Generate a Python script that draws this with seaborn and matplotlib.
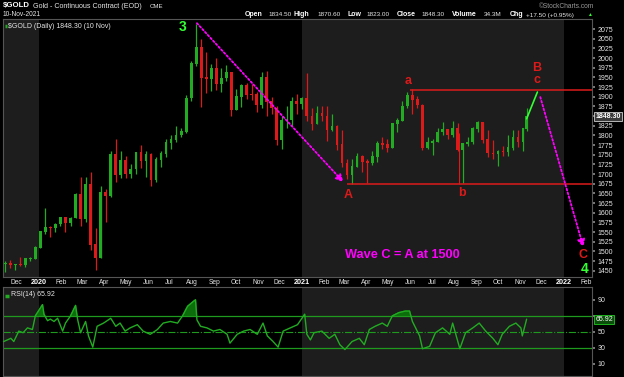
import numpy as np
import pandas as pd
import matplotlib
matplotlib.use("Agg")
import matplotlib.pyplot as plt
import matplotlib.dates as mdates
import seaborn as sns

# ---------------- data ----------------
# weekly bars (week ending Friday, last one is Wed 10 Nov 2021)
week_end = list(pd.date_range("2019-11-15", "2021-11-05", freq="W-FRI").strftime("%Y-%m-%d")) + ["2021-11-10"]

open_px = [1468, 1468, 1465, 1466, 1465, 1481, 1481,
           1510, 1552, 1562, 1560, 1571, 1589, 1574, 1586, 1648, 1585, 1674, 1517, 1484,
           1654, 1645, 1752, 1698, 1735, 1700, 1713, 1756, 1735, 1751, 1685, 1738, 1753,
           1781, 1790, 1801, 1810, 1897, 1986, 2028, 1950, 1947, 1974, 1934, 1948, 1962,
           1866, 1900, 1930, 1906, 1905, 1879, 1951, 1888, 1871, 1788, 1840, 1840, 1888,
           1883, 1895, 1850, 1830, 1856, 1850, 1814, 1824, 1777, 1729, 1698, 1720, 1745,
           1733, 1729, 1745, 1780, 1777, 1768, 1831, 1838, 1876, 1903, 1892, 1878, 1769,
           1781, 1784, 1809, 1815, 1802, 1817, 1763, 1779, 1783, 1818, 1833, 1790, 1754,
           1752, 1760, 1757, 1768, 1796, 1784, 1818]
high_px = [1475, 1478, 1468, 1486, 1482, 1485, 1515,
           1553, 1613, 1566, 1574, 1590, 1590, 1590, 1650, 1692, 1692, 1704, 1560, 1670,
           1660, 1760, 1790, 1760, 1747, 1727, 1757, 1775, 1760, 1755, 1745, 1760, 1790,
           1800, 1823, 1820, 1905, 1992, 2089, 2050, 2016, 1985, 2000, 1975, 1981, 1965,
           1921, 1933, 1936, 1933, 1912, 1965, 1966, 1900, 1875, 1850, 1875, 1900, 1907,
           1900, 1962, 1870, 1876, 1875, 1875, 1855, 1826, 1815, 1740, 1740, 1755, 1750,
           1740, 1760, 1785, 1797, 1790, 1833, 1845, 1890, 1912, 1919, 1903, 1880, 1795,
           1790, 1818, 1834, 1816, 1836, 1832, 1780, 1796, 1822, 1837, 1834, 1813, 1787,
           1763, 1772, 1801, 1815, 1813, 1820, 1871]
low_px = [1447, 1457, 1452, 1463, 1459, 1474, 1480,
          1508, 1545, 1537, 1551, 1565, 1551, 1565, 1585, 1565, 1575, 1504, 1451, 1482,
          1577, 1640, 1680, 1690, 1690, 1689, 1700, 1716, 1692, 1670, 1680, 1717, 1744,
          1766, 1783, 1796, 1807, 1890, 1980, 1874, 1910, 1914, 1916, 1912, 1940, 1851,
          1865, 1874, 1893, 1891, 1860, 1871, 1850, 1856, 1775, 1765, 1820, 1825, 1855,
          1868, 1836, 1815, 1830, 1836, 1785, 1810, 1763, 1717, 1687, 1673, 1718, 1705,
          1677, 1724, 1730, 1764, 1756, 1767, 1808, 1836, 1870, 1855, 1870, 1761, 1765,
          1750, 1782, 1800, 1790, 1795, 1760, 1677, 1772, 1778, 1808, 1781, 1745, 1738,
          1722, 1746, 1746, 1761, 1770, 1759, 1812]
close_px = [1468, 1465, 1466, 1465, 1481, 1481, 1510,
            1552, 1562, 1560, 1571, 1589, 1574, 1586, 1648, 1585, 1674, 1517, 1484, 1654,
            1645, 1752, 1698, 1735, 1700, 1713, 1756, 1735, 1751, 1685, 1738, 1753, 1781,
            1790, 1801, 1810, 1897, 1986, 2028, 1950, 1947, 1974, 1934, 1948, 1962, 1866,
            1900, 1930, 1906, 1905, 1879, 1951, 1888, 1871, 1788, 1840, 1840, 1888, 1883,
            1895, 1850, 1830, 1856, 1850, 1814, 1824, 1777, 1729, 1698, 1720, 1745, 1733,
            1729, 1745, 1780, 1777, 1768, 1831, 1838, 1876, 1903, 1892, 1878, 1769, 1781,
            1784, 1809, 1815, 1802, 1817, 1763, 1779, 1783, 1818, 1833, 1790, 1754, 1752,
            1760, 1757, 1768, 1796, 1784, 1818, 1848.3]

# RSI(14)
rsi_dates = ["2019-11-13", "2019-11-23", "2019-11-27", "2019-12-04", "2019-12-10", "2019-12-16",
             "2019-12-23", "2019-12-27", "2020-01-06", "2020-01-08", "2020-01-13", "2020-01-17",
             "2020-01-22", "2020-01-27", "2020-02-03", "2020-02-07", "2020-02-14", "2020-02-21",
             "2020-02-24", "2020-02-28", "2020-03-06", "2020-03-10", "2020-03-16", "2020-03-22",
             "2020-03-31", "2020-04-10", "2020-04-17", "2020-04-23", "2020-04-30", "2020-05-07",
             "2020-05-17", "2020-05-25", "2020-06-04", "2020-06-14", "2020-06-22", "2020-07-02",
             "2020-07-12", "2020-07-19", "2020-07-26", "2020-08-03", "2020-08-06", "2020-08-08",
             "2020-08-13", "2020-08-22", "2020-08-31", "2020-09-09", "2020-09-19", "2020-09-23",
             "2020-10-03", "2020-10-12", "2020-10-21", "2020-10-31", "2020-11-08", "2020-11-14",
             "2020-11-22", "2020-11-29", "2020-12-06", "2020-12-16", "2020-12-26", "2021-01-05",
             "2021-01-08", "2021-01-13", "2021-01-18", "2021-01-29", "2021-02-08", "2021-02-16",
             "2021-02-23", "2021-03-02", "2021-03-12", "2021-03-22", "2021-03-29", "2021-04-05",
             "2021-04-13", "2021-04-23", "2021-04-30", "2021-05-07", "2021-05-16", "2021-05-25",
             "2021-05-31", "2021-06-04", "2021-06-14", "2021-06-18", "2021-06-28", "2021-07-06",
             "2021-07-16", "2021-07-26", "2021-07-30", "2021-08-09", "2021-08-17", "2021-08-27",
             "2021-09-05", "2021-09-14", "2021-09-24", "2021-10-01", "2021-10-07", "2021-10-17",
             "2021-10-26", "2021-11-02", "2021-11-04", "2021-11-10"]
rsi_vals = [38, 42, 38, 51, 49, 55, 53, 70, 84, 72, 64, 66, 63, 67, 51, 61, 70, 83,
            65, 49, 63, 45, 31, 57, 61, 67, 57, 61, 51, 55, 59, 51, 47, 53, 61, 63,
            61, 70, 82, 88, 90, 65, 57, 55, 51, 53, 47, 36, 47, 51, 53, 47, 61, 45,
            38, 31, 51, 55, 59, 72, 47, 40, 49, 51, 42, 47, 34, 28, 38, 42, 34, 53,
            57, 61, 57, 70, 74, 76, 76, 63, 45, 29, 32, 49, 55, 47, 61, 29, 49, 55,
            61, 51, 42, 34, 47, 57, 61, 55, 45, 65.92]

price_ticks = list(range(1450, 2076, 25))
rsi_ticks = [10, 30, 50, 70, 90]

# Elliott wave markup
support = 1673
resistance = 1917
wave_text = ["3", "A", "a", "b", "B", "c", "C", "4"]
wave_date = ["2020-07-19", "2021-03-06", "2021-05-29", "2021-08-12", "2021-11-24",
             "2021-11-24", "2022-01-28", "2022-01-30"]
wave_price = [2080, 1646, 1940, 1651, 1974, 1943, 1491, 1454]

# ---------------- style ----------------
sns.set_theme(style="dark", rc={"axes.facecolor": "black", "figure.facecolor": "black",
                                "axes.edgecolor": "#555555", "axes.grid": False})
plt.rcParams["font.family"] = ["Liberation Sans", "DejaVu Sans"]

GREEN = "#22ac22"
RED = "#dc1a1a"
MAG = "#ff00ff"
LIME = "#33ff33"
BAND = "#1d1d1d"
TXT = "#e6e6e6"

W, H = 624, 377
fig = plt.figure(figsize=(W / 100, H / 100), dpi=100, facecolor="black")


def px_axes(x0, y0, x1, y1):
    return fig.add_axes([x0 / W, 1 - y1 / H, (x1 - x0) / W, (y1 - y0) / H])


def ftext(x, y, s, **kw):
    kw.setdefault("color", TXT)
    kw.setdefault("va", "center")
    fig.text(x / W, 1 - y / H, s, **kw)


ax = px_axes(3, 19, 592, 277)
ax_rsi = px_axes(3, 287, 592, 376)

d = mdates.date2num(pd.to_datetime(week_end))
o = np.array(open_px, float)
hi = np.array(high_px, float)
lo = np.array(low_px, float)
c = np.array(close_px, float)

x0 = mdates.date2num(pd.Timestamp("2019-11-12"))
x1 = mdates.date2num(pd.Timestamp("2022-02-09"))
y2020 = mdates.date2num(pd.Timestamp("2020-01-01"))
y2021 = mdates.date2num(pd.Timestamp("2021-01-01"))
y2022 = mdates.date2num(pd.Timestamp("2022-01-01"))

for a in (ax, ax_rsi):
    a.set_facecolor("black")
    a.axvspan(x0, y2020, color=BAND, zorder=0, lw=0)
    a.axvspan(y2021, y2022, color=BAND, zorder=0, lw=0)
    a.set_xlim(x0, x1)
    for s in a.spines.values():
        s.set_color("#555555")
        s.set_linewidth(0.8)

# candles
cols = np.where(c >= o, GREEN, RED)
ax.vlines(d, lo, hi, colors=cols, lw=0.9, zorder=2)
ax.bar(d, np.abs(c - o) + 1.5, bottom=np.minimum(o, c) - 0.75, width=3.8, color=cols,
       edgecolor="none", linewidth=0, zorder=3)
ax.set_ylim(1433.7, 2100.9)

# axes ticks
ax.yaxis.tick_right()
ax.set_yticks(price_ticks)
ax.set_yticklabels(["" if t == 1850 else str(t) for t in price_ticks])
ax.tick_params(axis="y", colors="#888888", labelcolor=TXT, labelsize=5, length=2, pad=2)

months = pd.date_range("2019-12-01", "2022-02-01", freq="MS")
ax.set_xticks(mdates.date2num(months))
ax.set_xticklabels([m.strftime("%Y") if m.month == 1 else m.strftime("%b") for m in months])
ax.tick_params(axis="x", colors="#888888", labelcolor=TXT, labelsize=4.8, length=2,
               direction="in", pad=1.5)
for lab, m in zip(ax.get_xticklabels(), months):
    if m.month == 1:
        lab.set_fontweight("bold")
        lab.set_fontsize(5.2)
        lab.set_color("white")

# Elliott wave lines
dA = mdates.date2num(pd.Timestamp("2021-03-05"))
da = mdates.date2num(pd.Timestamp("2021-05-31"))
db = mdates.date2num(pd.Timestamp("2021-08-08"))
ax.hlines(support, dA, x1, color=RED, lw=1.1, zorder=4)
ax.hlines(resistance, da, x1, color=RED, lw=1.1, zorder=4)
ax.vlines(db, support, 1805, color=RED, lw=0.8, zorder=4)

ax.annotate("", xy=(mdates.date2num(pd.Timestamp("2021-02-28")), 1679),
            xytext=(mdates.date2num(pd.Timestamp("2020-08-08")), 2090),
            arrowprops=dict(arrowstyle="-|>", ls=(0, (1, 1.2)), color=MAG, lw=1.3,
                            mutation_scale=11, shrinkA=0, shrinkB=0), zorder=5)
ax.annotate("", xy=(mdates.date2num(pd.Timestamp("2022-01-28")), 1511),
            xytext=(mdates.date2num(pd.Timestamp("2021-11-29")), 1899),
            arrowprops=dict(arrowstyle="-|>", ls=(0, (1, 1.2)), color=MAG, lw=1.3,
                            mutation_scale=11, shrinkA=0, shrinkB=0), zorder=5)
ax.plot(mdates.date2num(pd.to_datetime(["2021-11-10", "2021-11-25"])), [1843, 1912],
        color=LIME, lw=1.2, zorder=5)

for t, dt, p in zip(wave_text, wave_date, wave_price):
    col = LIME if t in ("3", "4") else RED
    size = 10 if t in ("3", "4") else 9
    ax.text(mdates.date2num(pd.Timestamp(dt)), p, t, color=col, fontsize=size,
            fontweight="bold", ha="center", va="center", zorder=6)

ax.text(mdates.date2num(pd.Timestamp("2021-05-21")), 1491, "Wave C = A at 1500",
        color=MAG, fontsize=9.2, fontweight="bold", ha="center", va="center", zorder=6)

# last price tag
ax.text(1.006, close_px[-1], f"{close_px[-1]:.2f}", transform=ax.get_yaxis_transform(),
        fontsize=5, color="white", fontweight="bold", va="center", ha="left",
        bbox=dict(boxstyle="square,pad=0.15", fc="#3a3a3a", ec="#cfcfcf", lw=0.6), clip_on=False)

# in-panel legend
ax.text(0.009, 0.985, "$GOLD (Daily) 1848.30 (10 Nov)", transform=ax.transAxes,
        fontsize=5, color=TXT, va="top", ha="left")
ax.plot([0.003, 0.0065], [0.972, 0.972], transform=ax.transAxes, color=GREEN, lw=2.5,
        solid_capstyle="butt")

# ---------------- RSI panel ----------------
rx = mdates.date2num(pd.to_datetime(rsi_dates))
rv = np.array(rsi_vals, float)
ax_rsi.fill_between(rx, rv, 70, where=rv > 70, interpolate=True, color="#0b6e0b", zorder=2)
sns.lineplot(x=rx, y=rv, ax=ax_rsi, color=GREEN, lw=1.0, zorder=3)
ax_rsi.axhline(70, color="#1f9a1f", lw=0.9, zorder=2)
ax_rsi.axhline(30, color="#1f9a1f", lw=0.9, zorder=2)
ax_rsi.axhline(50, color="#1f9a1f", lw=0.8, ls="-.", zorder=2)
ax_rsi.set_ylim(-5, 106)
ax_rsi.yaxis.tick_right()
ax_rsi.set_yticks(rsi_ticks)
ax_rsi.set_yticklabels(["" if t == 70 else str(t) for t in rsi_ticks])
ax_rsi.tick_params(axis="y", colors="#888888", labelcolor=TXT, labelsize=5, length=2, pad=2)
ax_rsi.set_xticks(mdates.date2num(months))
ax_rsi.tick_params(axis="x", colors="#888888", length=2, direction="in", labelbottom=False)
ax_rsi.set_xlabel("")
ax_rsi.set_ylabel("")
ax_rsi.text(0.013, 0.955, "RSI(14) 65.92", transform=ax_rsi.transAxes, fontsize=5,
            color=TXT, va="top", ha="left")
ax_rsi.plot([0.004, 0.0105], [0.9, 0.9], transform=ax_rsi.transAxes, color=GREEN, lw=2.5,
            solid_capstyle="butt")
ax_rsi.text(1.006, rsi_vals[-1], f"{rsi_vals[-1]:.2f}", transform=ax_rsi.get_yaxis_transform(),
            fontsize=5, color="white", va="center", ha="left", clip_on=False,
            bbox=dict(boxstyle="square,pad=0.15", fc="#0b4d0b", ec="#22cc22", lw=0.6))

# ---------------- header ----------------
ftext(3, 6, "$GOLD", fontsize=5.6, fontweight="bold", color="white")
ftext(33, 6, "Gold - Continuous Contract (EOD)", fontsize=5.1)
ftext(150, 6.5, "CME", fontsize=4.4)
ftext(3, 15, "10-Nov-2021", fontsize=4.8)
ftext(594, 6, "\u00a9StockCharts.com", fontsize=4.8, color="#9a9a9a", ha="right")
hdr = [(245, "Open", True), (268, "1834.50", False), (293, "High", True), (317, "1870.60", False),
       (347, "Low", True), (366, "1823.00", False), (397, "Close", True), (421, "1848.30", False),
       (452, "Volume", True), (484, "34.3M", False), (510, "Chg", True),
       (526, "+17.50 (+0.95%)", False)]
for xx, s, bold in hdr:
    ftext(xx, 15, s, fontsize=5.0 if bold else 4.6, fontweight="bold" if bold else "normal",
          color="white" if bold else TXT)
ftext(587, 15, "\u25b2", fontsize=3.5, color=LIME)

fig.savefig("out.png", dpi=100, facecolor="black")
